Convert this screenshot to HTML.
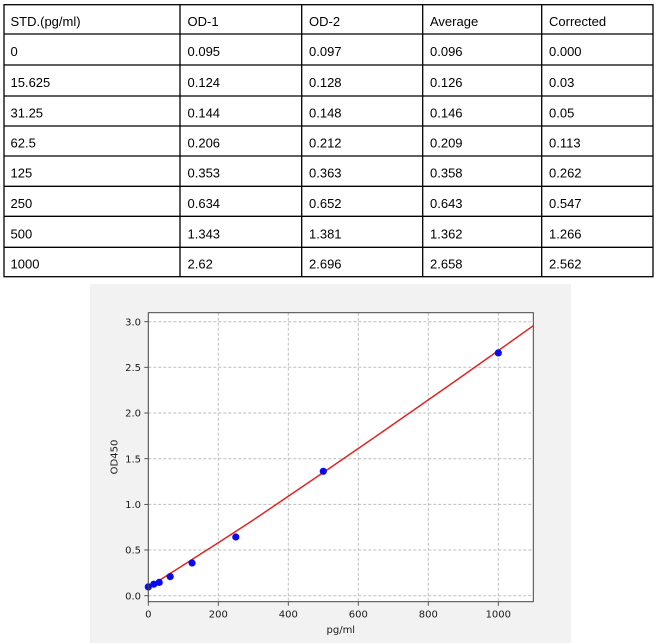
<!DOCTYPE html>
<html><head><meta charset="utf-8"><style>
html,body{margin:0;padding:0;background:#fff;}
svg{display:block;}
.t{font-family:"Liberation Sans",Arial,sans-serif;font-size:13px;fill:#000;}
.k{font-family:"DejaVu Sans","Liberation Sans",sans-serif;font-size:10px;fill:#1a1a1a;}
</style></head><body>
<svg width="659" height="643" viewBox="0 0 659 643" xmlns="http://www.w3.org/2000/svg">
<rect x="0" y="0" width="659" height="643" fill="#fff"/>
<!-- table -->
<g stroke="#000" stroke-width="1.3" fill="none">
<rect x="4" y="4.7" width="649" height="272"/>
<line x1="4" y1="34" x2="653" y2="34"/>
<line x1="4" y1="65" x2="653" y2="65"/>
<line x1="4" y1="96" x2="653" y2="96"/>
<line x1="4" y1="126" x2="653" y2="126"/>
<line x1="4" y1="156" x2="653" y2="156"/>
<line x1="4" y1="186.3" x2="653" y2="186.3"/>
<line x1="4" y1="216.3" x2="653" y2="216.3"/>
<line x1="4" y1="247.3" x2="653" y2="247.3"/>
<line x1="180" y1="4.7" x2="180" y2="276.7"/>
<line x1="301.7" y1="4.7" x2="301.7" y2="276.7"/>
<line x1="422.7" y1="4.7" x2="422.7" y2="276.7"/>
<line x1="541.7" y1="4.7" x2="541.7" y2="276.7"/>
</g>
<g class="t">
<text x="10.5" y="26">STD.(pg/ml)</text><text x="187.5" y="26">OD-1</text><text x="309" y="26">OD-2</text><text x="430" y="26">Average</text><text x="549" y="26">Corrected</text>
<text x="10.5" y="56">0</text><text x="187.5" y="56">0.095</text><text x="309" y="56">0.097</text><text x="430" y="56">0.096</text><text x="549" y="56">0.000</text>
<text x="10.5" y="87">15.625</text><text x="187.5" y="87">0.124</text><text x="309" y="87">0.128</text><text x="430" y="87">0.126</text><text x="549" y="87">0.03</text>
<text x="10.5" y="117.5">31.25</text><text x="187.5" y="117.5">0.144</text><text x="309" y="117.5">0.148</text><text x="430" y="117.5">0.146</text><text x="549" y="117.5">0.05</text>
<text x="10.5" y="147.5">62.5</text><text x="187.5" y="147.5">0.206</text><text x="309" y="147.5">0.212</text><text x="430" y="147.5">0.209</text><text x="549" y="147.5">0.113</text>
<text x="10.5" y="177.5">125</text><text x="187.5" y="177.5">0.353</text><text x="309" y="177.5">0.363</text><text x="430" y="177.5">0.358</text><text x="549" y="177.5">0.262</text>
<text x="10.5" y="207.8">250</text><text x="187.5" y="207.8">0.634</text><text x="309" y="207.8">0.652</text><text x="430" y="207.8">0.643</text><text x="549" y="207.8">0.547</text>
<text x="10.5" y="238.3">500</text><text x="187.5" y="238.3">1.343</text><text x="309" y="238.3">1.381</text><text x="430" y="238.3">1.362</text><text x="549" y="238.3">1.266</text>
<text x="10.5" y="268.5">1000</text><text x="187.5" y="268.5">2.62</text><text x="309" y="268.5">2.696</text><text x="430" y="268.5">2.658</text><text x="549" y="268.5">2.562</text>
</g>
<!-- chart background -->
<rect x="90" y="284" width="481" height="359" fill="#f2f2f2"/>
<rect x="148.3" y="312.7" width="385" height="289" fill="#fff"/>
<!-- grid -->
<g stroke="#bdbdbd" stroke-width="1" stroke-dasharray="3,2" fill="none">
<line x1="218.3" y1="312.7" x2="218.3" y2="601.7"/>
<line x1="288.3" y1="312.7" x2="288.3" y2="601.7"/>
<line x1="358.3" y1="312.7" x2="358.3" y2="601.7"/>
<line x1="428.3" y1="312.7" x2="428.3" y2="601.7"/>
<line x1="498.3" y1="312.7" x2="498.3" y2="601.7"/>
<line x1="148.3" y1="595.7" x2="533.3" y2="595.7"/>
<line x1="148.3" y1="550" x2="533.3" y2="550"/>
<line x1="148.3" y1="504.4" x2="533.3" y2="504.4"/>
<line x1="148.3" y1="458.7" x2="533.3" y2="458.7"/>
<line x1="148.3" y1="413" x2="533.3" y2="413"/>
<line x1="148.3" y1="367.3" x2="533.3" y2="367.3"/>
<line x1="148.3" y1="321.7" x2="533.3" y2="321.7"/>
</g>
<!-- fit line -->
<polyline fill="none" stroke="#e02424" stroke-width="1.5" points="148.3,587.5 165.8,576.3 183.3,565.1 200.8,553.9 218.3,542.7 253.3,520 288.3,496.3 323.3,472.5 358.3,448.5 393.3,424.3 428.3,399.9 463.3,375.4 498.3,350.6 533.3,325.7"/>
<!-- points -->
<g fill="#0a0af0">
<circle cx="148.3" cy="586.9" r="3.6"/>
<circle cx="153.8" cy="584.2" r="3.6"/>
<circle cx="159.2" cy="582.4" r="3.6"/>
<circle cx="170.2" cy="576.6" r="3.6"/>
<circle cx="192.05" cy="563" r="3.6"/>
<circle cx="235.8" cy="537" r="3.6"/>
<circle cx="323.3" cy="471.3" r="3.6"/>
<circle cx="498.3" cy="352.9" r="3.6"/>
</g>
<!-- spines -->
<rect x="148.3" y="312.7" width="385" height="289" fill="none" stroke="#444" stroke-width="1"/>
<!-- ticks -->
<g stroke="#444" stroke-width="0.9">
<line x1="148.3" y1="601.7" x2="148.3" y2="605.7"/>
<line x1="218.3" y1="601.7" x2="218.3" y2="605.7"/>
<line x1="288.3" y1="601.7" x2="288.3" y2="605.7"/>
<line x1="358.3" y1="601.7" x2="358.3" y2="605.7"/>
<line x1="428.3" y1="601.7" x2="428.3" y2="605.7"/>
<line x1="498.3" y1="601.7" x2="498.3" y2="605.7"/>
<line x1="144.3" y1="595.7" x2="148.3" y2="595.7"/>
<line x1="144.3" y1="550" x2="148.3" y2="550"/>
<line x1="144.3" y1="504.4" x2="148.3" y2="504.4"/>
<line x1="144.3" y1="458.7" x2="148.3" y2="458.7"/>
<line x1="144.3" y1="413" x2="148.3" y2="413"/>
<line x1="144.3" y1="367.3" x2="148.3" y2="367.3"/>
<line x1="144.3" y1="321.7" x2="148.3" y2="321.7"/>
</g>
<g class="k" text-anchor="middle">
<text x="148.3" y="617.3">0</text>
<text x="218.3" y="617.3">200</text>
<text x="288.3" y="617.3">400</text>
<text x="358.3" y="617.3">600</text>
<text x="428.3" y="617.3">800</text>
<text x="498.3" y="617.3">1000</text>
<text x="340.8" y="633">pg/ml</text>
</g>
<g class="k" text-anchor="end">
<text x="141" y="599.3">0.0</text>
<text x="141" y="553.6">0.5</text>
<text x="141" y="508">1.0</text>
<text x="141" y="462.3">1.5</text>
<text x="141" y="416.6">2.0</text>
<text x="141" y="370.9">2.5</text>
<text x="141" y="325.3">3.0</text>
</g>
<text class="k" text-anchor="middle" transform="translate(117.5,457) rotate(-90)">OD450</text>
</svg>
</body></html>
